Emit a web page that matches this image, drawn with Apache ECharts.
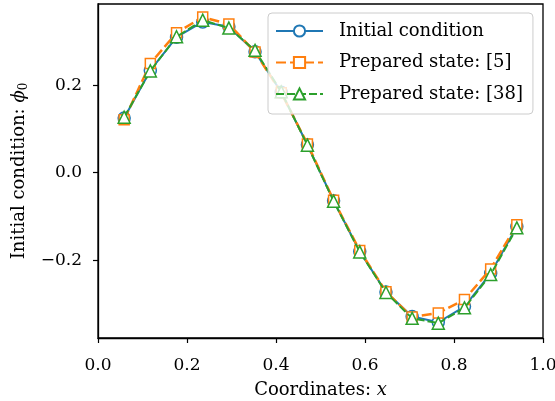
<!DOCTYPE html>
<html>
<head>
<meta charset="utf-8">
<script src="https://cdn.jsdelivr.net/npm/echarts@6/dist/echarts.min.js"></script>
<style>html,body{margin:0;padding:0;background:#fff;}#c{width:555px;height:401px;}</style>
</head>
<body>
<div id="c"></div>
<script>
var xValues = [0.0588, 0.1176, 0.1765, 0.2353, 0.2941, 0.3529, 0.4118, 0.4706, 0.5294, 0.5882, 0.6471, 0.7059, 0.7647, 0.8235, 0.8824, 0.9412];
var initialCondition = [0.125, 0.234, 0.310, 0.345, 0.334, 0.277, 0.184, 0.064, -0.064, -0.180, -0.273, -0.329, -0.342, -0.306, -0.230, -0.123];
var prepared5 = [0.121, 0.250, 0.320, 0.356, 0.340, 0.276, 0.183, 0.066, -0.063, -0.178, -0.272, -0.330, -0.321, -0.290, -0.220, -0.119];
var prepared38 = [0.127, 0.233, 0.311, 0.349, 0.331, 0.280, 0.185, 0.063, -0.065, -0.181, -0.274, -0.333, -0.344, -0.309, -0.233, -0.126];
var seriesNames = ['Initial condition', 'Prepared state: [5]', 'Prepared state: [38]'];
var xTicks = [0, 0.2, 0.4, 0.6, 0.8, 1.0];
var yTicks = [-0.2, 0, 0.2];

function pairs(ys){ return xValues.map(function(x,i){ return [x, ys[i]]; }); }
var FONT = 'DejaVu Serif';
function fmt(v){ var s = Math.abs(v).toFixed(1); return (v < -1e-9 ? '\u2212' : '') + s; }

var chart = echarts.init(document.getElementById('c'), null, {renderer:'canvas'});
chart.setOption({
  animation: false,
  backgroundColor: '#fff',
  grid: {left: 98, right: 12, top: 4, bottom: 63, containLabel: false, outerBoundsMode: 'none', show: true, borderColor: '#000', borderWidth: 1.3, backgroundColor: 'transparent'},
  xAxis: {
    type: 'value', min: 0, max: 1, interval: 0.2,
    splitLine: {show: false},
    axisLine: {onZero: false, lineStyle: {color: '#000', width: 1.3}},
    axisTick: {show: true, length: 5, customValues: xTicks, lineStyle: {color: '#000', width: 1.2}},
    axisLabel: {color: '#000', fontFamily: FONT, fontSize: 17, margin: 19, customValues: xTicks, formatter: fmt},
    name: '{t|Coordinates: }{i|x}', nameLocation: 'middle', nameGap: 43,
    nameTextStyle: {rich: {t: {fontFamily: FONT, fontSize: 18, color: '#000'}, i: {fontFamily: FONT, fontSize: 18, fontStyle: 'italic', color: '#000'}}}
  },
  yAxis: {
    type: 'value', min: -0.378, max: 0.386,
    splitLine: {show: false},
    axisLine: {show: true, onZero: false, lineStyle: {color: '#000', width: 1.3}},
    axisTick: {show: true, length: 5, customValues: yTicks, lineStyle: {color: '#000', width: 1.2}},
    axisLabel: {color: '#000', fontFamily: FONT, fontSize: 17, margin: 16, customValues: yTicks, formatter: fmt},
    name: '{t|Initial condition: }{i|\u03d5}{s|0}', nameLocation: 'middle', nameGap: 65, nameRotate: 90,
    nameTextStyle: {rich: {t: {fontFamily: FONT, fontSize: 18, color: '#000'}, i: {fontFamily: FONT, fontSize: 18, fontStyle: 'italic', color: '#000'}, s: {fontFamily: FONT, fontSize: 12, color: '#000', padding: [9,0,0,0]}}}
  },
  legend: {
    left: 268, top: 13, orient: 'vertical', z: 10,
    itemWidth: 47, itemHeight: 14, itemGap: 13.5,
    padding: [9, 10, 11, 7],
    backgroundColor: 'rgba(255,255,255,0.8)', borderColor: '#cccccc', borderWidth: 1, borderRadius: 4,
    textStyle: {fontFamily: FONT, fontSize: 18, color: '#000', padding: [0,0,0,11]},
    data: seriesNames
  },
  series: [
    {name: seriesNames[0], type: 'line', data: pairs(initialCondition), symbol: 'circle', symbolSize: 12,
     color: '#1f77b4', lineStyle: {width: 2, color: '#1f77b4'}, itemStyle: {color: '#fff', borderColor: '#1f77b4', borderWidth: 1.5}, z: 2},
    {name: seriesNames[1], type: 'line', data: pairs(prepared5), symbol: 'rect', symbolSize: 10,
     color: '#ff7f0e', lineStyle: {width: 2.5, color: '#ff7f0e', type: [10, 4]}, itemStyle: {color: '#fff', borderColor: '#ff7f0e', borderWidth: 1.5}, z: 3},
    {name: seriesNames[2], type: 'line', data: pairs(prepared38), symbol: 'triangle', symbolSize: 12,
     color: '#2ca02c', lineStyle: {width: 2, color: '#2ca02c', type: [8, 3]}, itemStyle: {color: '#fff', borderColor: '#2ca02c', borderWidth: 1.5}, z: 4}
  ]
});
</script>
</body>
</html>
